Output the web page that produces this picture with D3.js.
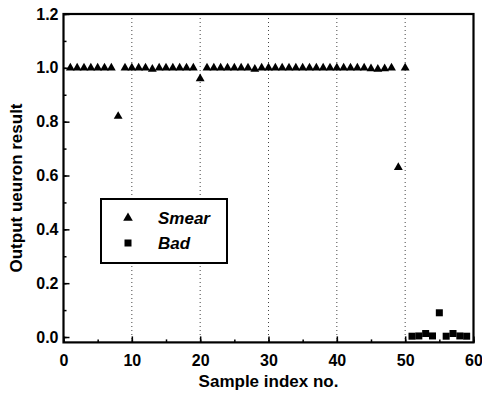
<!DOCTYPE html>
<html><head><meta charset="utf-8">
<script src="https://cdn.jsdelivr.net/npm/d3@7"></script>
<style>body{margin:0;background:#fff}svg{display:block}</style>
</head><body>
<script>
// Data
const smearIdx = [1,2,3,4,5,6,7,8,9,10,11,12,13,14,15,16,17,18,19,20,21,22,23,24,25,26,27,28,29,30,31,32,33,34,35,36,37,38,39,40,41,42,43,44,45,46,47,48,49,50];
const smearVal = [1.0,1.0,1.0,1.0,1.0,1.0,1.0,0.82,1.0,1.0,1.0,1.0,0.995,1.0,1.0,1.0,1.0,1.0,1.0,0.96,1.0,1.0,1.0,1.0,1.0,1.0,1.0,0.995,1.0,1.0,1.0,1.0,1.0,1.0,1.0,1.0,1.0,1.0,1.0,1.0,1.0,1.0,1.0,1.0,0.997,0.995,0.997,1.0,0.63,1.0];
const badIdx = [51,52,53,54,55,56,57,58,59];
const badVal = [0.003,0.004,0.013,0.004,0.09,0.003,0.013,0.004,0.003];
const xTicks = [0,10,20,30,40,50,60];
const yTicks = [0.0,0.2,0.4,0.6,0.8,1.0,1.2];
const legendNames = ["Smear","Bad"];

const W=482,H=394;
const L=63.5,R=473.5,T=14,B=342.4;
const svg=d3.select("body").append("svg").attr("width",W).attr("height",H);
const x=d3.scaleLinear().domain([0,60]).range([L,R]);
const y=d3.scaleLinear().domain([-0.02,1.2]).range([B,T]);

// dotted vertical gridlines
svg.append("g").selectAll("line").data([10,20,30,40,50]).join("line")
  .attr("x1",d=>x(d)).attr("x2",d=>x(d)).attr("y1",T).attr("y2",B)
  .attr("stroke","#444").attr("stroke-width",1).attr("stroke-dasharray","1,3");

// axes with inward ticks
const font="'Liberation Sans', Arial, sans-serif";
const xMinor=d3.range(0,61,5), yMinor=d3.range(0,1.21,0.1);
const gx=svg.append("g").attr("transform",`translate(0,${B})`);
gx.call(d3.axisBottom(x).tickValues(xMinor).tickSize(-3).tickFormat(""));
gx.call(g=>g.select(".domain").remove());
const gx2=svg.append("g").attr("transform",`translate(0,${B})`);
gx2.call(d3.axisBottom(x).tickValues(xTicks).tickSize(-6).tickPadding(12).tickFormat(d3.format("d")));
gx2.select(".domain").remove();
gx2.selectAll("text").attr("font-family",font).attr("font-weight","bold").attr("font-size","16px").attr("fill","#000");
const gy=svg.append("g").attr("transform",`translate(${L},0)`);
gy.call(d3.axisLeft(y).tickValues(yMinor).tickSize(-3).tickFormat(""));
gy.select(".domain").remove();
const gy2=svg.append("g").attr("transform",`translate(${L},0)`);
gy2.call(d3.axisLeft(y).tickValues(yTicks).tickSize(-6).tickPadding(5).tickFormat(d3.format(".1f")));
gy2.select(".domain").remove();
gy2.selectAll("text").attr("font-family",font).attr("font-weight","bold").attr("font-size","16px").attr("fill","#000");
svg.selectAll(".tick line").attr("stroke","#000").attr("stroke-width",1.5);

// frame
svg.append("rect").attr("x",L).attr("y",T).attr("width",R-L).attr("height",B-T)
  .attr("fill","none").attr("stroke","#000").attr("stroke-width",2.2);

// markers
const tri=d3.symbol().type(d3.symbolTriangle).size(34);
svg.append("g").selectAll("path").data(smearIdx.map((d,i)=>[d,smearVal[i]])).join("path")
  .attr("d",tri).attr("transform",d=>`translate(${x(d[0])},${y(d[1])})`).attr("fill","#000");
svg.append("g").selectAll("rect").data(badIdx.map((d,i)=>[d,badVal[i]])).join("rect")
  .attr("x",d=>x(d[0])-3.5).attr("y",d=>y(d[1])-3.5).attr("width",7).attr("height",7).attr("fill","#000");

// axis titles
svg.append("text").attr("x",(L+R)/2).attr("y",387).attr("text-anchor","middle")
  .attr("font-family",font).attr("font-weight","bold").attr("font-size","17px").text("Sample index no.");
svg.append("text").attr("transform","translate(22,188) rotate(-90)").attr("text-anchor","middle")
  .attr("font-family",font).attr("font-weight","bold").attr("font-size","17px").text("Output ueuron result");

// legend
const lg=svg.append("g");
lg.append("rect").attr("x",101).attr("y",199).attr("width",126).attr("height",64)
  .attr("fill","#fff").attr("stroke","#000").attr("stroke-width",2);
lg.append("path").attr("d",d3.symbol().type(d3.symbolTriangle).size(40)).attr("transform","translate(128,218)");
lg.append("rect").attr("x",124.5).attr("y",239.5).attr("width",7).attr("height",7);
lg.selectAll("text.lt").data(legendNames).join("text").attr("class","lt")
  .attr("x",158).attr("y",(d,i)=>224+i*25).attr("font-family",font).attr("font-weight","bold")
  .attr("font-style","italic").attr("font-size","17px").text(d=>d);
</script>
</body></html>
